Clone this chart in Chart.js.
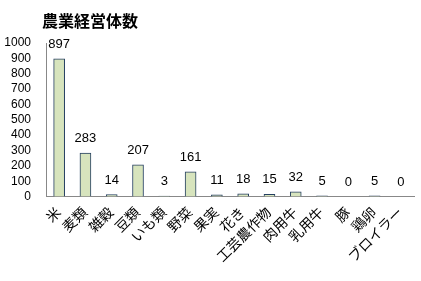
<!DOCTYPE html>
<html>
<head>
<meta charset="utf-8">
<script src="https://cdn.jsdelivr.net/npm/chart.js@4"></script>
<style>
  html, body { margin: 0; padding: 0; background: #fff; }
  #wrap { width: 421px; height: 281px; }
</style>
</head>
<body>
<div id="wrap"><canvas id="chart"></canvas></div>
<script>
// chart data
const chartTitle = '農業経営体数';
const categories = ['米', '麦類', '雑穀', '豆類', 'いも類', '野菜', '果実', '花き', '工芸農作物', '肉用牛', '乳用牛', '豚', '鶏卵', 'ブロイラー'];
const counts = [897, 283, 14, 207, 3, 161, 11, 18, 15, 32, 5, 0, 5, 0];

const fontFamily = '"Liberation Sans", "Noto Sans CJK JP", sans-serif';

// value labels above each bar
const valueLabels = {
    id: 'valueLabels',
    afterDatasetsDraw(chart) {
        const ctx = chart.ctx;
        const meta = chart.getDatasetMeta(0);
        ctx.save();
        ctx.font = '13px ' + fontFamily;
        ctx.fillStyle = '#000';
        ctx.textAlign = 'center';
        ctx.textBaseline = 'bottom';
        meta.data.forEach((bar, i) => {
            ctx.fillText(String(counts[i]), bar.x, bar.y - 8);
        });
        ctx.restore();
    }
};

// title drawn at the top left like the original
const leftTitle = {
    id: 'leftTitle',
    afterDraw(chart) {
        const ctx = chart.ctx;
        ctx.save();
        ctx.font = 'bold 16px "Noto Sans CJK JP", sans-serif';
        ctx.fillStyle = '#000';
        ctx.textAlign = 'center';
        ctx.textBaseline = 'middle';
        ctx.fillText(chartTitle, 90, 21);
        ctx.restore();
    }
};

const ctx = document.getElementById('chart').getContext('2d');
new Chart(ctx, {
    type: 'bar',
    data: {
        labels: categories,
        datasets: [{
            data: counts,
            backgroundColor: '#d7e4bd',
            borderColor: '#243f60',
            borderWidth: 1,
            barThickness: 11
        }]
    },
    options: {
        responsive: true,
        maintainAspectRatio: false,
        animation: false,
        layout: {
            padding: { top: 43, right: 6, bottom: 7, left: 0 }
        },
        scales: {
            y: {
                min: 0,
                max: 1000,
                grid: { display: false, drawTicks: false },
                border: { display: true, color: '#888' },
                ticks: {
                    stepSize: 100,
                    autoSkip: false,
                    padding: 15,
                    color: '#000',
                    font: { size: 12, family: fontFamily },
                    callback: (v) => String(v)
                },
                afterFit: (scale) => { scale.width = 46; }
            },
            x: {
                grid: { display: false, drawTicks: false },
                border: { display: true, color: '#888' },
                ticks: {
                    minRotation: 45,
                    maxRotation: 45,
                    autoSkip: false,
                    padding: 8,
                    color: '#000',
                    font: { size: 14, family: fontFamily }
                }
            }
        },
        plugins: {
            legend: { display: false },
            title: { display: false },
            tooltip: { enabled: false }
        }
    },
    plugins: [valueLabels, leftTitle]
});
</script>
</body>
</html>
